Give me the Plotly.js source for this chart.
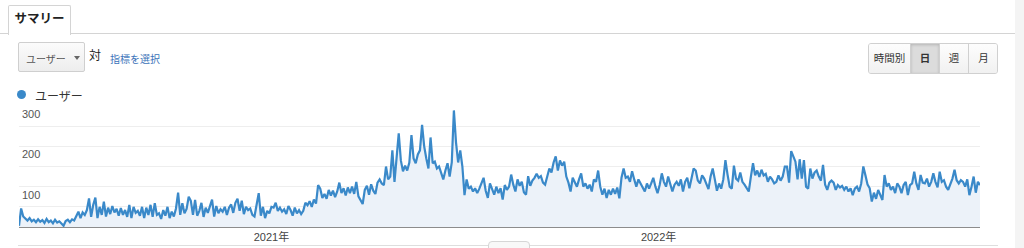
<!DOCTYPE html>
<html><head><meta charset="utf-8">
<script src="https://cdn.plot.ly/plotly-3.0.1.min.js"></script>
<style>
body{margin:0;width:1024px;height:248px;overflow:hidden;background:#fff;font-family:"Liberation Sans","Noto Sans CJK JP",sans-serif;position:relative}
#chart{position:absolute;left:0;top:0;width:1024px;height:248px}
.abs{position:absolute;white-space:nowrap}
.btn{position:absolute;top:0;height:29px;line-height:29px;text-align:center;font-size:10.5px;color:#333;border-left:1px solid #d0d0d0;background:linear-gradient(#fdfdfd,#f1f1f1)}
</style></head><body>
<div id="chart"></div>
<div class="abs" style="left:1015px;top:0;width:9px;height:248px;background:#f4f4f4"></div>
<div class="abs" style="left:0;top:33px;width:1015px;height:1px;background:#d4d4d4"></div>
<div class="abs" style="left:8px;top:5px;width:61px;height:29px;border:1px solid #d4d4d4;border-bottom:none;background:#fff;border-radius:2px 2px 0 0;text-align:center;line-height:27px;font-size:12.5px;font-weight:bold;color:#222">サマリー</div>
<div class="abs" style="left:18px;top:42px;width:65px;height:28px;border:1px solid #cfcfcf;border-radius:2px;background:linear-gradient(#fbfbfb,#ededed)">
  <span class="abs" style="left:7px;top:8px;font-size:10px;color:#555">ユーザー</span>
  <span class="abs" style="left:55px;top:13px;width:0;height:0;border-left:3px solid transparent;border-right:3px solid transparent;border-top:4px solid #666"></span>
</div>
<div class="abs" style="left:89px;top:46px;font-size:12px;color:#222">対</div>
<div class="abs" style="left:110px;top:51px;font-size:10px;color:#3b73b9">指標を選択</div>
<div class="abs" style="left:868px;top:43px;width:128px;height:29px;border:1px solid #d0d0d0;border-radius:3px;overflow:hidden;background:#f5f5f5">
  <div class="btn" style="left:0;width:41px;border-left:none">時間別</div>
  <div class="btn" style="left:41px;width:28px;background:#dcdcdc;box-shadow:inset 0 1px 3px rgba(0,0,0,0.18);font-weight:bold">日</div>
  <div class="btn" style="left:70px;width:28px">週</div>
  <div class="btn" style="left:99px;width:29px">月</div>
</div>
<div class="abs" id="legend" style="left:17px;top:87px;font-size:12px;color:#333">
  <span class="abs" style="left:0;top:3px;width:9px;height:9px;border-radius:50%;background:#3a89c9"></span>
  <span class="abs" id="legendText" style="left:18px;top:0"></span>
</div>
<div class="abs" style="left:18px;top:245px;width:980px;height:1px;background:#dedede"></div>
<div class="abs" style="left:488px;top:241px;width:40px;height:8px;border:1px solid #d6d6d6;border-radius:4px 4px 0 0;background:#f8f8f8"></div>
<script>
const seriesName = 'ユーザー';
const startDate = '2020-05-08';
const stepDays = 2;
const users = [
3,46,26,20,16,22,14,18,12,19,
13,17,10,20,12,16,9,18,11,14,
8,3,15,18,12,19,16,26,38,22,
36,30,42,71,25,55,73,22,50,30,
63,26,48,32,52,36,45,28,47,30,
42,25,55,22,50,35,40,28,50,22,
48,30,55,25,59,30,34,20,42,28,
50,22,38,26,46,85,30,59,34,45,
75,65,30,67,28,40,60,25,48,35,
55,68,26,52,34,44,38,50,30,48,
56,35,60,70,40,65,32,50,42,46,
30,26,55,84,28,50,22,40,34,50,
48,60,40,48,38,44,32,52,42,28,
48,34,42,32,40,60,54,64,50,68,
58,104,95,72,82,70,92,78,90,74,
88,110,84,96,78,98,84,100,82,112,
76,65,57,92,102,80,106,90,82,110,
118,108,104,150,118,125,190,112,170,232,
165,138,152,140,160,228,170,158,180,190,
253,200,170,145,222,158,162,145,150,135,
118,140,158,125,160,289,210,160,190,150,
79,118,95,100,88,96,84,95,110,122,
90,72,108,92,80,100,84,96,68,104,
92,100,130,105,88,118,102,112,86,80,
126,102,115,122,132,122,126,110,105,125,
145,135,160,175,140,165,152,162,125,110,
88,122,112,100,118,133,100,108,95,105,
88,118,112,140,100,80,95,72,92,80,
95,82,98,71,122,145,122,125,112,138,
118,100,118,108,100,88,108,95,108,122,
100,84,104,133,112,100,125,108,88,105,
112,102,118,88,112,122,96,120,145,140,
115,108,128,120,108,94,125,145,118,90,
108,95,118,166,130,100,95,152,120,115,
135,112,105,98,88,125,158,128,140,124,
142,128,132,112,125,118,108,112,128,115,
125,150,150,110,188,175,162,118,168,120,
166,100,95,145,120,135,140,125,115,154,
105,92,110,115,110,92,104,98,102,92,
100,88,96,79,95,100,88,108,150,128,
105,96,63,85,70,92,80,67,129,100,
108,92,100,84,108,100,84,104,112,79,
104,108,137,108,92,129,110,108,120,100,
112,133,112,98,137,112,116,100,92,108,
120,142,116,108,116,112,100,118,79,100,
125,85,112,104
];
const xTickVals = ['2021-01-01','2022-01-01'];
const xTickText = ['2021年','2022年'];
const yGridVals = [0,50,100,150,200,250,300];
const yLabelVals = [100,200,300];

document.getElementById('legendText').textContent = seriesName;

const t0 = Date.parse(startDate + 'T00:00:00Z');
const dates = users.map((_, i) => new Date(t0 + i * stepDays * 86400000).toISOString().slice(0,10));

const trace = {
  x: dates, y: users, type: 'scatter', mode: 'lines', name: seriesName,
  line: {color: '#3a89c9', width: 2.2},
  fill: 'tozeroy', fillcolor: '#ecf2f9',
  hoverinfo: 'x+y'
};
const layout = {
  width: 1024, height: 248,
  margin: {l: 19, r: 44, t: 106, b: 21, pad: 0},
  paper_bgcolor: 'rgba(0,0,0,0)', plot_bgcolor: 'rgba(0,0,0,0)',
  showlegend: false,
  font: {family: '"Liberation Sans","Noto Sans CJK JP",sans-serif', size: 11, color: '#444'},
  xaxis: {
    type: 'date', range: [dates[0], dates[dates.length-1]],
    showgrid: false, zeroline: false, showline: true, linecolor: '#8c8c8c', linewidth: 1,
    tickvals: xTickVals, ticktext: xTickText, ticks: '', tickfont: {size: 11, color: '#444'},
    fixedrange: true
  },
  yaxis: {
    range: [0, 300], tickvals: yGridVals, showticklabels: false, ticks: '',
    showgrid: true, gridcolor: '#eeeeee', gridwidth: 1, zeroline: false, showline: false,
    fixedrange: true
  },
  annotations: yLabelVals.map(v => ({
    xref: 'paper', x: 0, xanchor: 'left', xshift: 1,
    yref: 'y', y: v, yanchor: 'top', yshift: 0,
    text: String(v), showarrow: false, font: {size: 11, color: '#555'}
  }))
};
Plotly.newPlot('chart', [trace], layout, {displayModeBar: false, staticPlot: true});
</script>
</body></html>
